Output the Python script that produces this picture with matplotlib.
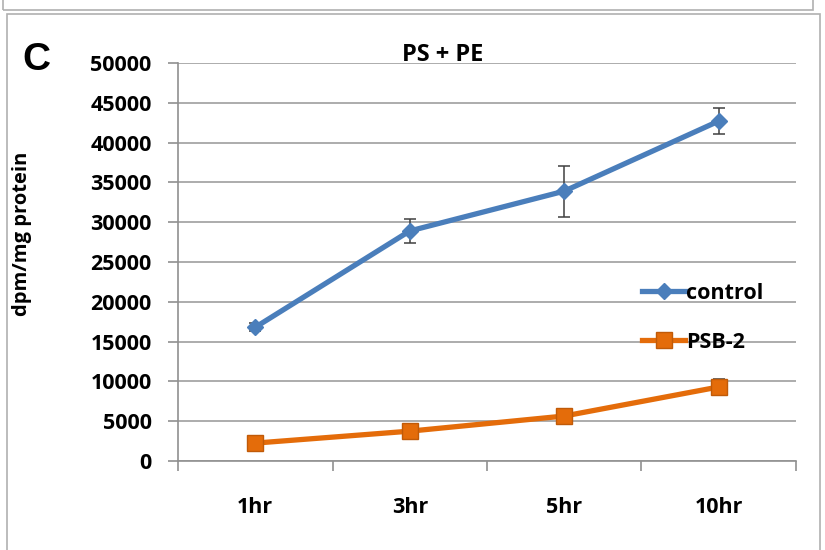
import numpy as np
import matplotlib.pyplot as plt
from matplotlib.patches import Rectangle
from matplotlib.lines import Line2D

# Tiempo de incubación y captación de PS + PE
time_labels = ['1hr', '3hr', '5hr', '10hr']
control = [16800, 28900, 33900, 42700]
control_err = [500, 1500, 3200, 1600]
psb2 = [2250, 3750, 5650, 9300]
psb2_err = [300, 400, 400, 1000]

plt.rcParams['font.family'] = ['Open Sans', 'DejaVu Sans']

fig = plt.figure(figsize=(8.25, 5.5), dpi=100)
ax = fig.add_axes([0.2158, 0.1618, 0.749, 0.7237])

x = np.arange(len(time_labels))
blue = '#4a7ebb'
orange = '#e46c0a'

ax.errorbar(x, control, yerr=control_err, color=blue, lw=3.8, marker='D', ms=8.5,
            ecolor='#404040', elinewidth=1.1, capsize=4, capthick=1.1, zorder=3)
ax.errorbar(x, psb2, yerr=psb2_err, color=orange, lw=3.8, marker='s', ms=11,
            mec='#c05a08', ecolor='#404040', elinewidth=1.1, capsize=4, capthick=1.1, zorder=3)

ax.set_xlim(-0.5, len(time_labels) - 0.5)
ax.set_ylim(0, 50000)
ax.set_yticks(np.arange(0, 50001, 5000))
ax.set_xticks(x)
ax.set_xticklabels(time_labels)
ax.set_xticks(np.arange(-0.5, len(time_labels)), minor=True)
ax.tick_params(axis='x', which='major', length=0, pad=26, labelsize=15.5)
ax.tick_params(axis='x', which='minor', length=7, color='#909090', width=1.2)
ax.tick_params(axis='y', length=7, color='#909090', width=1.2, pad=12, labelsize=15.5)
for lab in ax.get_xticklabels() + ax.get_yticklabels():
    lab.set_fontweight('bold')

ax.grid(axis='y', color='#a6a6a6', lw=1.3)
ax.set_axisbelow(True)
for side in ['top', 'right']:
    ax.spines[side].set_visible(False)
for side in ['left', 'bottom']:
    ax.spines[side].set_color('#909090')
    ax.spines[side].set_linewidth(1.2)

ax.set_ylabel('dpm/mg protein', fontsize=14.5, fontweight='bold')
ax.yaxis.set_label_coords(-0.236, 0.57)

fig.text(443 / 825, 1 - 55 / 550, 'PS + PE', ha='center', va='center',
         fontsize=17, fontweight='bold')
fig.text(36 / 825, 1 - 60 / 550, 'C', ha='center', va='center',
         fontsize=28, fontweight='bold', family='Liberation Sans')

handles = [Line2D([], [], color=blue, lw=3.8, marker='D', ms=8.5),
           Line2D([], [], color=orange, lw=3.8, marker='s', ms=11, mec='#c05a08')]
leg = ax.legend(handles, ['control', 'PSB-2'], loc='center left',
                bbox_to_anchor=(0.72, 0.36), frameon=False, handlelength=2.0,
                handletextpad=0.05, labelspacing=1.3, prop={'size': 15.5, 'weight': 'bold'})

# marcos del panel
fig.patches.append(Rectangle((3 / 825, 1 - 10 / 550), 810 / 825, 0.05, transform=fig.transFigure,
                             fill=False, ec='#b0b0b0', lw=1.2))
fig.patches.append(Rectangle((7 / 825, -0.05), 813 / 825, 1 - 14 / 550 + 0.05, transform=fig.transFigure,
                             fill=False, ec='#b0b0b0', lw=1.2))

fig.savefig('out.png', dpi=100)
